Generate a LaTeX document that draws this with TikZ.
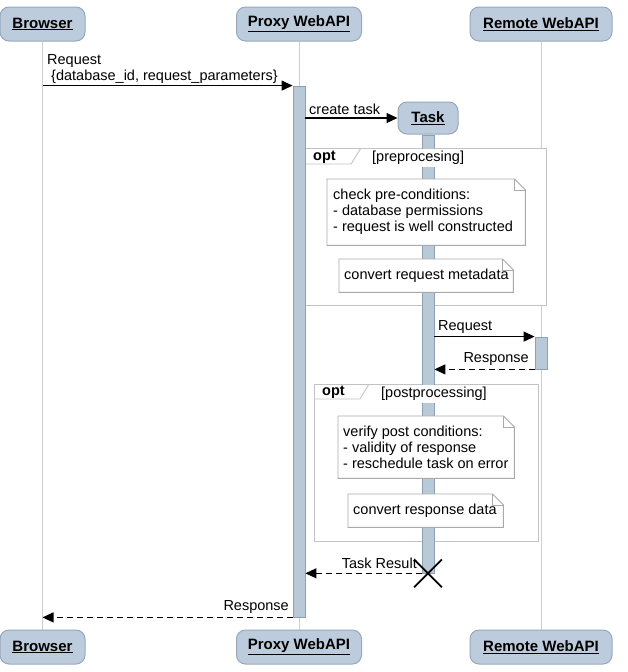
\documentclass[tikz,border=0pt]{standalone}
\usepackage{fontspec}
\setmainfont{Liberation Sans}
\usetikzlibrary{arrows.meta,calc,shapes.misc}

\definecolor{hdrfill}{RGB}{188,204,220}
\definecolor{hdrline}{RGB}{150,168,188}
\definecolor{barfill}{RGB}{184,201,216}
\definecolor{barline}{RGB}{140,160,180}
\definecolor{lifecol}{RGB}{205,205,205}
\definecolor{framecol}{RGB}{195,195,195}
\definecolor{notecol}{RGB}{170,170,170}

\tikzset{
  actor/.style={draw=hdrline, fill=hdrfill, rounded corners=9pt, line width=1pt,
    minimum height=34pt, inner sep=0pt, font=\fontsize{15}{17}\selectfont\bfseries},
  actbar/.style={draw=barline, fill=barfill, line width=0.8pt, minimum width=12pt, inner sep=0pt},
  life/.style={draw=lifecol, line width=0.9pt},
  msg/.style={line width=1.1pt, -{Triangle[length=11pt,width=10pt]}},
  reply/.style={msg, dash pattern=on 6pt off 4pt},
  lbl/.style={font=\fontsize{14.5}{16}\selectfont, inner sep=0pt},
  guard/.style={lbl, fill=white, inner xsep=1pt, inner ysep=0pt, minimum height=18pt},
  optframe/.style={draw=framecol, line width=0.9pt, fill=white, inner sep=0pt},
  notebox/.style={inner sep=0pt},
  noteline/.style={draw=notecol, line width=0.9pt, fill=white},
}

% outline of a note with a folded corner around node #1
\newcommand\drawnote[1]{%
  \draw[noteline] (#1.north west) -- ($(#1.north east)+(-11,0)$) -- ($(#1.north east)+(0,11)$)
    -- (#1.south east) -- (#1.south west) -- cycle;
  \draw[noteline, fill=none] ($(#1.north east)+(-11,0)$) -- ($(#1.north east)+(-11,11)$)
    -- ($(#1.north east)+(0,11)$);
}

\begin{document}
\begin{tikzpicture}[x=1pt, y=-1pt]
\useasboundingbox (0,0) rectangle (627,672);

% participants, top and bottom
\node[actor, minimum width=85pt]  (b1) at (42.5,24) {\underline{Browser}};
\node[actor, minimum width=125pt] (p1) at (299,24)  {\underline{Proxy WebAPI}};
\node[actor, minimum width=142pt] (r1) at (541,24)  {\underline{Remote WebAPI}};
\node[actor, minimum width=85pt]  (b2) at (42.5,647) {\underline{Browser}};
\node[actor, minimum width=125pt] (p2) at (299,647)  {\underline{Proxy WebAPI}};
\node[actor, minimum width=142pt] (r2) at (541,647)  {\underline{Remote WebAPI}};

% lifelines
\draw[life] (b1.south) -- (b2.north);
\draw[life] (p1.south) -- (p2.north);
\draw[life] (r1.south) -- (r2.north);

% optional fragments
\node[optframe, minimum width=241pt, minimum height=157pt, anchor=north west] (f1) at (305,148) {};
\draw[draw=framecol, line width=0.9pt] (f1.north west) ++(0,16) -- ++(46,0) -- ++(10,-16);
\node[optframe, minimum width=224pt, minimum height=157pt, anchor=north west] (f2) at (314,384) {};
\draw[draw=framecol, line width=0.9pt] (f2.north west) ++(0,15) -- ++(46,0) -- ++(9,-15);

% activations
\node[actbar, minimum height=531pt] (pa) at (299,351.5) {};
\node[actor, minimum width=60pt, minimum height=32pt] (task) at (428,118) {\underline{Task}};
\node[actbar, minimum height=438pt, anchor=north] (tb) at (task.south) {};
\node[actbar, minimum height=32pt] (ra) at (541,353) {};

% fragment operators and guards
\node[lbl, font=\fontsize{14.5}{16}\selectfont\bfseries, anchor=west] (o1) at (313,157) {opt};
\node[guard, anchor=north west] (g1) at (371,149) {[preprocesing]};
\node[lbl, font=\fontsize{14.5}{16}\selectfont\bfseries, anchor=west] (o2) at (322,392) {opt};
\node[guard, anchor=north west] (g2) at (380,385) {[postprocessing]};

% notes
\node[notebox, minimum width=198pt, minimum height=66pt, anchor=north west] (n1) at (327,179) {};
\drawnote{n1}
\node[lbl, anchor=west, align=left] (n1t) at ([xshift=6pt]n1.west)
  {check pre-conditions:\\- database permissions\\- request is well constructed};
\node[notebox, minimum width=174pt, minimum height=33pt, anchor=north west] (n2) at (339,259) {};
\drawnote{n2}
\node[lbl, anchor=west] (n2t) at ([xshift=5pt]n2.west) {convert request metadata};

\node[notebox, minimum width=176pt, minimum height=62pt, anchor=north west] (n3) at (338,416) {};
\drawnote{n3}
\node[lbl, anchor=west, align=left] (n3t) at ([xshift=5pt]n3.west)
  {verify post conditions:\\- validity of response\\- reschedule task on error};
\node[notebox, minimum width=155pt, minimum height=33pt, anchor=north west] (n4) at (348,494) {};
\drawnote{n4}
\node[lbl, anchor=west] (n4t) at ([xshift=5pt]n4.west) {convert response data};

% messages
\draw[msg] (b1.south |- pa.north) -- (pa.north west);
\node[lbl, anchor=south west, align=left] (m1) at (47,84)
  {Request\\\hspace{4pt}\{database\_id, request\_parameters\}};

\draw[msg] (pa.east |- task.west) -- (task.west);
\node[lbl, anchor=south west] (m2) at (309,115) {create task};

\draw[msg] (tb.east |- ra.north) -- (ra.north west);
\node[lbl, anchor=south west] (m3) at (438,334) {Request};

\draw[reply] (ra.south west) -- (tb.east |- ra.south);
\node[lbl, anchor=south east] (m4) at (529,366) {Response};

\draw[reply] (tb.south west) -- (pa.east |- tb.south);
\node[lbl, anchor=south east] (m5) at (417,569) {Task Result};
\node[draw, cross out, line width=1.8pt, minimum size=26pt, inner sep=0pt] (kill) at (tb.south) {};

\draw[reply] (pa.south west) -- (b1.south |- pa.south);
\node[lbl, anchor=south east] (m6) at (289,614) {Response};
\end{tikzpicture}
\end{document}
